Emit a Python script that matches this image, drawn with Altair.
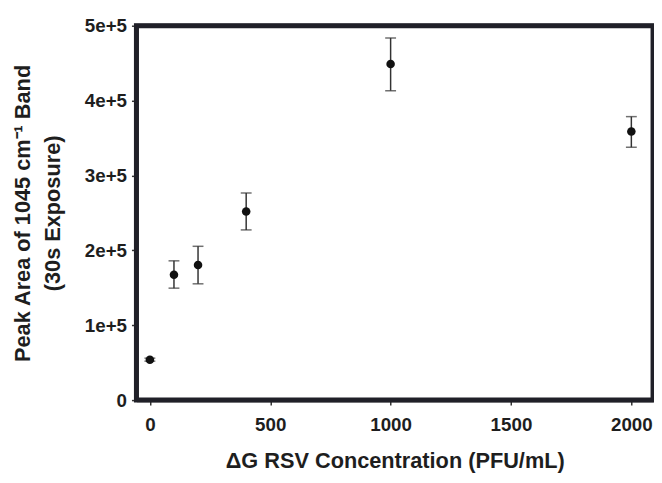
import altair as alt
import pandas as pd

conc = [0, 100, 200, 400, 1000, 2000]
peak = [54000, 167500, 180300, 252000, 448900, 358800]
err_lo = [52000, 149500, 155300, 227300, 413300, 337700]
err_hi = [56000, 186000, 205400, 276600, 483700, 378600]

x_ticks = [0, 500, 1000, 1500, 2000]
y_ticks = [0, 100000, 200000, 300000, 400000, 500000]

df = pd.DataFrame({"conc": conc, "peak": peak, "lo": err_lo, "hi": err_hi})

FONT = "Liberation Sans"
TXT = "#1e1e1e"
W, H = 523, 379

x_enc = alt.X("conc:Q", scale=alt.Scale(domain=[-56, 2090], nice=False, zero=False),
              axis=alt.Axis(values=x_ticks, title="ΔG RSV Concentration (PFU/mL)",
                            format="d", grid=False, labelFontSize=19, titleFontSize=22,
                            labelPadding=11, titlePadding=16, tickSize=5,
                            domainWidth=3.5, domainColor="#1a1a1a"))
y_scale = alt.Scale(domain=[0, 500000], nice=False)
y_axis = alt.Axis(values=y_ticks, title=["Peak Area of 1045 cm⁻¹ Band", "(30s Exposure)"],
                  grid=False, labelFontSize=19, titleFontSize=22, labelPadding=5,
                  titlePadding=20, tickSize=5, titleLineHeight=30,
                  domainWidth=3.5, domainColor="#1a1a1a",
                  labelExpr="datum.value == 0 ? '0' : (datum.value/100000) + 'e+5'")

base = alt.Chart(df)
one = alt.Chart(pd.DataFrame({"k": [0]}))

rules = base.mark_rule(color="#333333", strokeWidth=1.5).encode(
    x=x_enc, y=alt.Y("lo:Q", scale=y_scale, axis=y_axis), y2="hi:Q")
cap_lo = base.mark_tick(color="#333333", orient="horizontal", size=11, thickness=1.5).encode(
    x="conc:Q", y="lo:Q")
cap_hi = base.mark_tick(color="#333333", orient="horizontal", size=11, thickness=1.5).encode(
    x="conc:Q", y="hi:Q")
pts = base.mark_point(filled=True, color="#111111", size=75, opacity=1).encode(
    x="conc:Q", y="peak:Q")
frame = one.mark_rect(filled=False, stroke="#202028", strokeWidth=5, strokeOpacity=1).encode(
    x=alt.value(0), x2=alt.value(W), y=alt.value(0), y2=alt.value(H))

chart = alt.layer(rules, cap_lo, cap_hi, pts, frame).properties(
    width=W, height=H,
    autosize=alt.AutoSizeParams(type="none"),
    padding={"left": 130, "top": 15, "right": 1, "bottom": 82},
    background="white",
).configure_view(stroke="#202028", strokeWidth=4).configure_axis(
    labelFont=FONT, titleFont=FONT, labelFontWeight="bold", titleFontWeight="bold",
    labelColor=TXT, titleColor=TXT,
    tickColor="#333333", tickWidth=1.5,
)

chart.save("out.html", embed_options={"renderer": "svg", "actions": False})
